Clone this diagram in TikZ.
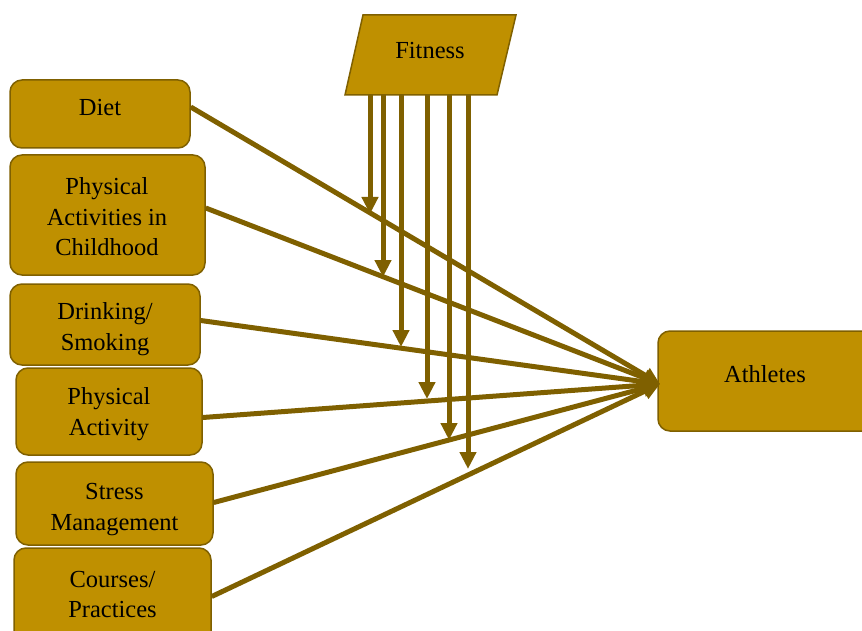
\documentclass[tikz,border=0pt]{standalone}
\usepackage{fontspec}
\setmainfont{Liberation Serif}
\usetikzlibrary{arrows.meta,calc}
\definecolor{boxfill}{HTML}{BF9000}
\definecolor{boxline}{HTML}{7F6000}
\tikzset{
  factor/.style={draw=boxline, line width=1.5pt, fill=boxfill, rounded corners=12pt, inner sep=0pt},
  txt/.style={align=center, inner sep=0pt, font=\fontsize{24.5}{30.5}\selectfont},
  link/.style={draw=boxline, line width=5pt, -{Triangle[length=17pt,width=16pt]}},
}
\begin{document}
\begin{tikzpicture}[x=1pt,y=-1pt]
\useasboundingbox (0,0) rectangle (862,631);
\clip (0,0) rectangle (862,631);
% left boxes
\node[factor, minimum width=180pt, minimum height=68pt] (diet) at (100,114) {};
\node[factor, minimum width=195pt, minimum height=120pt] (pac) at (107.5,215) {};
\node[factor, minimum width=190pt, minimum height=81pt] (drink) at (105,324.5) {};
\node[factor, minimum width=186pt, minimum height=87pt] (pa) at (109,411.5) {};
\node[factor, minimum width=197pt, minimum height=83pt] (stress) at (114.5,503.5) {};
\node[factor, minimum width=197pt, minimum height=97pt] (course) at (112.5,596.5) {};
\node[factor, minimum width=220pt, minimum height=100pt] (ath) at (768,381) {};
% texts
\node[txt] (diet-t) at (100,108) {Diet};
\node[txt] (pac-t) at (107,217) {Physical\\Activities in\\Childhood};
\node[txt] (drink-t) at (105,329) {Drinking/\\Smoking};
\node[txt] (pa-t) at (109,414) {Physical\\Activity};
\node[txt] (stress-t) at (114.5,509.5) {Stress\\Management};
\node[txt] (course-t) at (112.5,594.5) {Courses/\\Practices};
\node[txt] (ath-t) at (765,374) {Athletes};
% fitness parallelogram
\draw[boxline, line width=1.5pt, fill=boxfill] (363,15) -- (516,15) -- (497,95) -- (345,95) -- cycle;
\node[txt] (fit) at (430,51) {Fitness};
% vertical arrow starts and ends
\foreach \n/\x/\y in {a/370/214, b/383/277, c/401/347, d/427/399, e/449/440, f/468/469} {
  \coordinate (s\n) at (\x,95);
  \coordinate (t\n) at (\x,\y);
}
\foreach \n in {a,b,c,d,e,f} { \draw[link] (s\n) -- (t\n); }
% links to athletes
\coordinate (hub) at (660,384);
\draw[link] ([yshift=7pt]diet.east) -- (hub);
\draw[link] ([yshift=7pt]pac.east) -- (hub);
\draw[link] ([yshift=4pt]drink.east) -- (hub);
\draw[link] ([yshift=-6pt]pa.east) -- (hub);
\draw[link] ([yshift=1pt]stress.east) -- (hub);
\draw[link] ([yshift=0pt]course.east) -- (hub);
\end{tikzpicture}
\end{document}
